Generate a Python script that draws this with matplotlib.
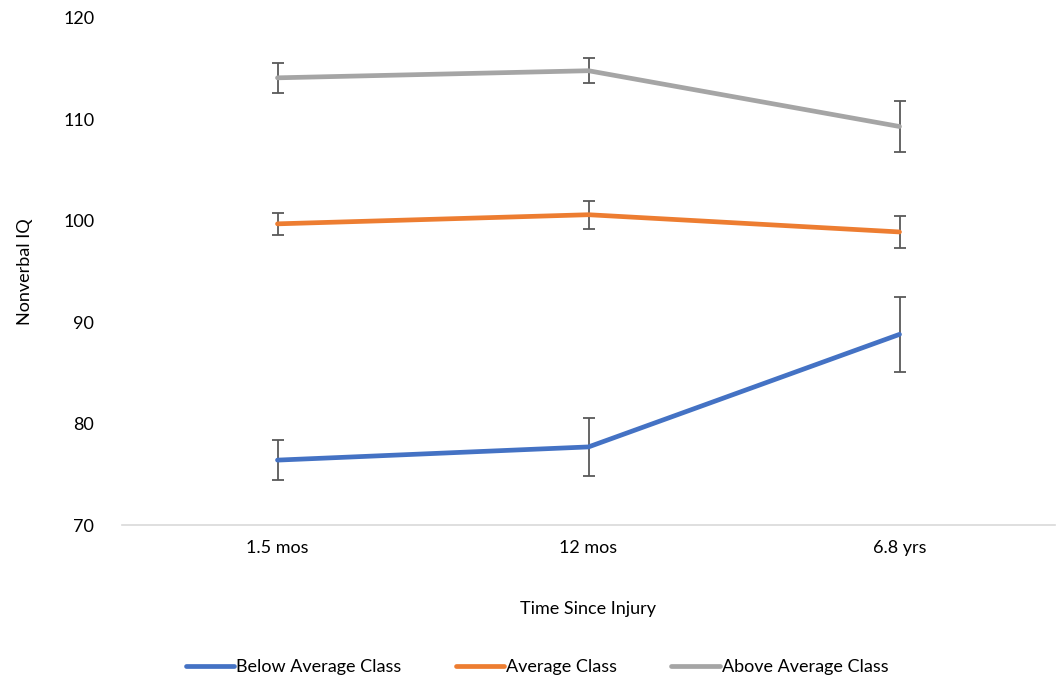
import matplotlib.pyplot as plt

plt.rcParams['font.family'] = ['Lato', 'DejaVu Sans']

timepoints = ["1.5 mos", "12 mos", "6.8 yrs"]
series_names = ["Below Average Class", "Average Class", "Above Average Class"]
below_avg = [76.4, 77.7, 88.8]
below_err = [2.0, 2.9, 3.7]
average = [99.7, 100.6, 98.9]
average_err = [1.1, 1.4, 1.55]
above_avg = [114.1, 114.8, 109.3]
above_err = [1.5, 1.25, 2.5]
colors = ["#4472C4", "#ED7D31", "#A5A5A5"]

fig = plt.figure(figsize=(10.59, 6.80), dpi=100)
ax = fig.add_axes([122 / 1059, 1 - 525 / 680, 933 / 1059, 507 / 680])

x = list(range(len(timepoints)))
for vals, errs, col, name in zip([below_avg, average, above_avg],
                                 [below_err, average_err, above_err],
                                 colors, series_names):
    ax.plot(x, vals, color=col, lw=3.4, label=name, solid_capstyle='round', zorder=3)
    ax.errorbar(x, vals, yerr=errs, fmt='none', ecolor='#595959', elinewidth=1.3,
                capsize=4, capthick=1.3, zorder=2)

ax.set_xlim(-0.5, 2.5)
ax.set_ylim(70, 120)
ax.set_yticks([70, 80, 90, 100, 110, 120])
ax.set_xticks(x)
ax.set_xticklabels(timepoints)
for s in ['top', 'right', 'left']:
    ax.spines[s].set_visible(False)
ax.spines['bottom'].set_color('#D9D9D9')
ax.spines['bottom'].set_linewidth(1.2)
ax.tick_params(axis='both', length=0, labelsize=13, colors='#000000')
ax.tick_params(axis='y', pad=20)
ax.tick_params(axis='x', pad=11)

ax.set_ylabel("Nonverbal IQ", fontsize=13, labelpad=22)
ax.set_xlabel("Time Since Injury", fontsize=13, labelpad=32)

fig.legend(loc='center', bbox_to_anchor=(537 / 1059, 1 - 667 / 680), ncol=3,
           frameon=False, fontsize=13, handlelength=2.7, handletextpad=0.1,
           columnspacing=3.0)

fig.savefig("out.png", dpi=100)
